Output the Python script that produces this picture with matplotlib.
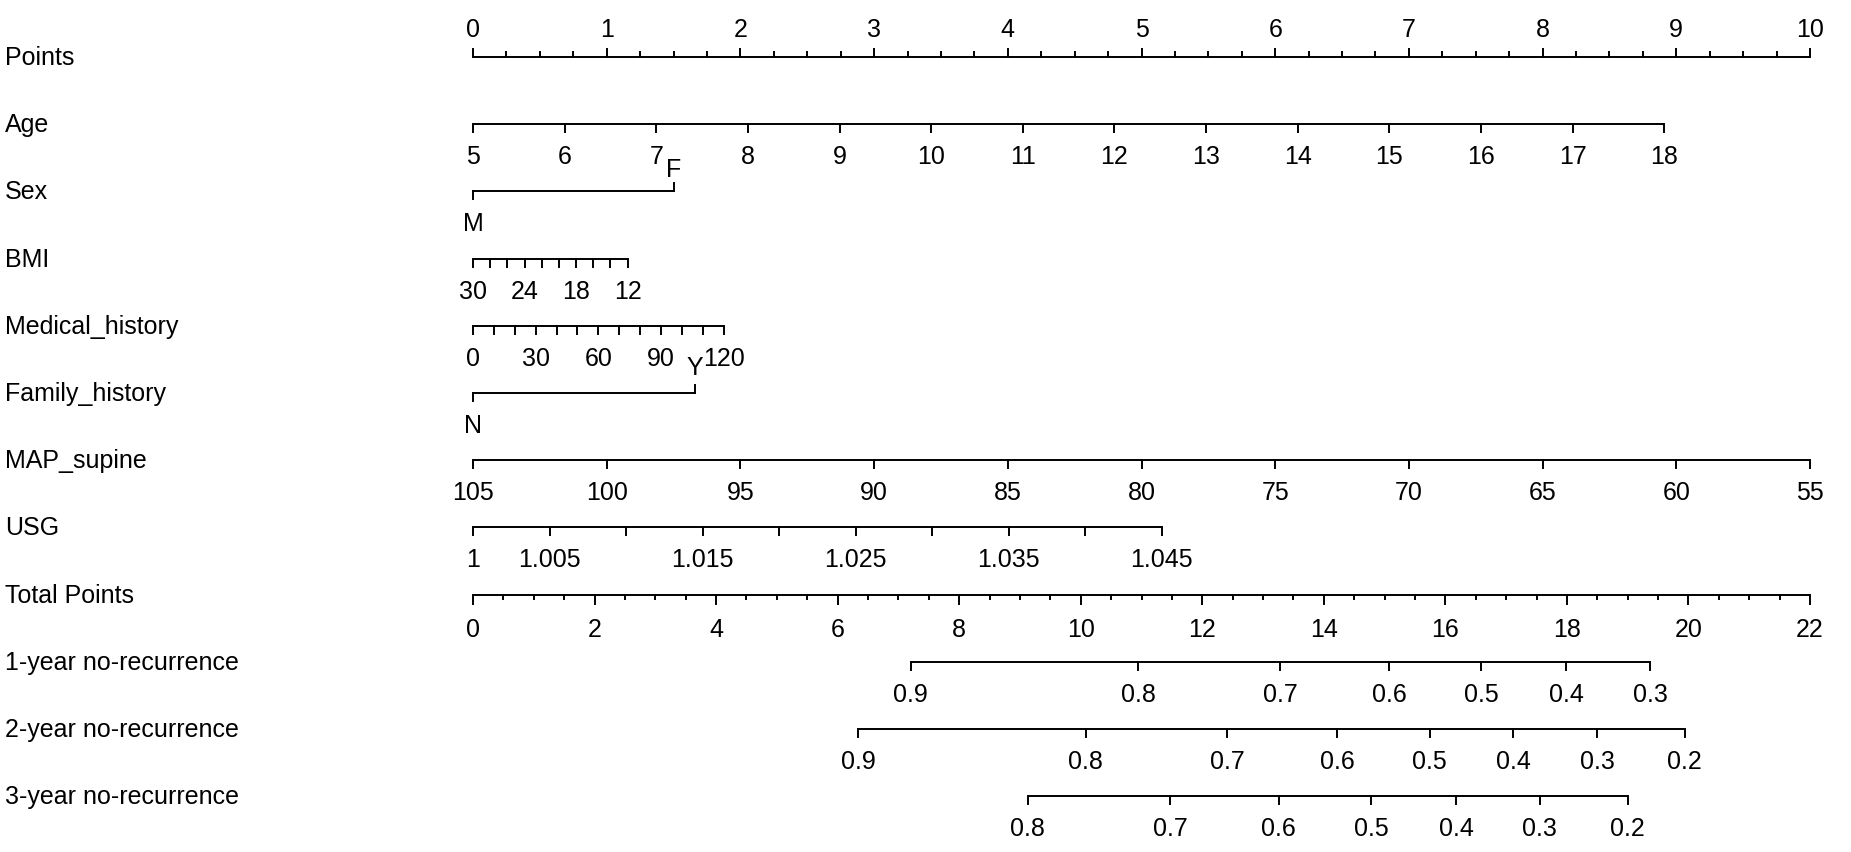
import numpy as np
import matplotlib
matplotlib.use("Agg")
import matplotlib.pyplot as plt

plt.rcParams['font.family'] = ['Liberation Sans', 'DejaVu Sans']

# row names, top to bottom
rows = ["Points", "Age", "Sex", "BMI", "Medical_history", "Family_history",
        "MAP_supine", "USG", "Total Points", "1-year no-recurrence",
        "2-year no-recurrence", "3-year no-recurrence"]

# continuous predictors: value range and points at each end
age_range = [5, 18]
age_pts = [0, 8.91]
age_ticks = list(range(5, 19))
age_labels = list(range(5, 19))

bmi_range = [30, 12]
bmi_pts = [0, 1.156]
bmi_ticks = list(range(30, 11, -2))
bmi_labels = [30, 24, 18, 12]

med_range = [0, 120]
med_pts = [0, 1.875]
med_ticks = list(range(0, 121, 10))
med_labels = [0, 30, 60, 90, 120]

map_range = [105, 55]
map_pts = [0, 10]
map_ticks = list(range(105, 54, -5))
map_labels = list(range(105, 54, -5))

usg_range = [1.0, 1.045]
usg_pts = [0, 5.15]
usg_ticks = [1.0, 1.005, 1.01, 1.015, 1.02, 1.025, 1.03, 1.035, 1.04, 1.045]
usg_labels = ["1", "1.005", "1.015", "1.025", "1.035", "1.045"]
usg_label_vals = [1.0, 1.005, 1.015, 1.025, 1.035, 1.045]

# categorical predictors: (level, points)
sex_levels = ["M", "F"]
sex_pts = [0, 1.50]
fam_levels = ["N", "Y"]
fam_pts = [0, 1.66]

total_max = 22

# survival scales: probability -> total points
p1_vals = [0.9, 0.8, 0.7, 0.6, 0.5, 0.4, 0.3]
p1_tot = [7.20, 10.95, 13.28, 15.08, 16.59, 17.99, 19.37]
p2_vals = [0.9, 0.8, 0.7, 0.6, 0.5, 0.4, 0.3, 0.2]
p2_tot = [6.34, 10.08, 12.41, 14.22, 15.74, 17.12, 18.50, 19.94]
p3_vals = [0.8, 0.7, 0.6, 0.5, 0.4, 0.3, 0.2]
p3_tot = [9.13, 11.47, 13.26, 14.78, 16.18, 17.55, 19.00]

W, H = 1851, 852
x0, x10 = 473, 1810
ppu = (x10 - x0) / 10.0

fig = plt.figure(figsize=(W / 100, H / 100), dpi=100)
ax = fig.add_axes([0, 0, 1, 1])
ax.set_xlim(-x0 / ppu, (W - x0) / ppu)
ax.set_ylim(H, 0)
ax.axis("off")

FS = 18
LW = 1.4
row_y = [57 + 67.2 * i for i in range(len(rows))]


def lin(v, r, p):
    return p[0] + (v - r[0]) / (r[1] - r[0]) * (p[1] - p[0])


def axis_line(y, xs, lens, up=False):
    ax.plot([min(xs), max(xs)], [y, y], color="black", lw=LW, solid_capstyle="butt")
    for x, L in zip(xs, lens):
        ax.plot([x, x], [y, y - L if up else y + L], color="black", lw=LW)


def below_labels(y, xs, labels, off=21):
    for x, t in zip(xs, labels):
        ax.text(x, y + off, str(t), ha="center", va="top", fontsize=FS)


lab_tr = ax.get_yaxis_transform()
for name, y in zip(rows, row_y):
    ax.text(5 / W, y + 1, name, transform=lab_tr, ha="left", va="center", fontsize=FS)

# Points
y = row_y[0]
pt_minor = np.arange(0, 10.01, 0.25)
axis_line(y, pt_minor, [8 if abs(v - round(v)) < 1e-6 else 5 for v in pt_minor], up=True)
for v in range(0, 11):
    ax.text(v, y - 15, str(v), ha="center", va="bottom", fontsize=FS)

# Age
y = row_y[1]
xs = [lin(v, age_range, age_pts) for v in age_ticks]
axis_line(y, xs, [8] * len(xs))
below_labels(y, [lin(v, age_range, age_pts) for v in age_labels], age_labels)

# Sex
y = row_y[2]
ax.plot(sex_pts, [y, y], color="black", lw=LW)
ax.plot([sex_pts[0]] * 2, [y, y + 8], color="black", lw=LW)
ax.plot([sex_pts[1]] * 2, [y, y - 8], color="black", lw=LW)
ax.text(sex_pts[0], y + 21, sex_levels[0], ha="center", va="top", fontsize=FS)
ax.text(sex_pts[1], y - 9, sex_levels[1], ha="center", va="bottom", fontsize=FS)

# BMI
y = row_y[3]
xs = [lin(v, bmi_range, bmi_pts) for v in bmi_ticks]
axis_line(y, xs, [8] * len(xs))
below_labels(y, [lin(v, bmi_range, bmi_pts) for v in bmi_labels], bmi_labels)

# Medical history
y = row_y[4]
xs = [lin(v, med_range, med_pts) for v in med_ticks]
axis_line(y, xs, [8] * len(xs))
below_labels(y, [lin(v, med_range, med_pts) for v in med_labels], med_labels)

# Family history
y = row_y[5]
ax.plot(fam_pts, [y, y], color="black", lw=LW)
ax.plot([fam_pts[0]] * 2, [y, y + 8], color="black", lw=LW)
ax.plot([fam_pts[1]] * 2, [y, y - 8], color="black", lw=LW)
ax.text(fam_pts[0], y + 21, fam_levels[0], ha="center", va="top", fontsize=FS)
ax.text(fam_pts[1], y - 13, fam_levels[1], ha="center", va="bottom", fontsize=FS)

# MAP supine
y = row_y[6]
xs = [lin(v, map_range, map_pts) for v in map_ticks]
axis_line(y, xs, [8] * len(xs))
below_labels(y, [lin(v, map_range, map_pts) for v in map_labels], map_labels)

# USG
y = row_y[7]
xs = [lin(v, usg_range, usg_pts) for v in usg_ticks]
axis_line(y, xs, [8] * len(xs))
below_labels(y, [lin(v, usg_range, usg_pts) for v in usg_label_vals], usg_labels)

# Total points
y = row_y[8]
tp = np.arange(0, total_max + 0.01, 0.5)
axis_line(y, tp * 10 / total_max, [9 if abs(v % 2) < 1e-6 else 4 for v in tp])
below_labels(y, [v * 10 / total_max for v in range(0, total_max + 1, 2)],
             list(range(0, total_max + 1, 2)), off=23)

# survival scales
for i, (vals, tot) in enumerate([(p1_vals, p1_tot), (p2_vals, p2_tot), (p3_vals, p3_tot)]):
    y = row_y[9 + i]
    xs = [t * 10 / total_max for t in tot]
    axis_line(y, xs, [8] * len(xs))
    below_labels(y, xs, vals)

fig.savefig("out.png", dpi=100)
